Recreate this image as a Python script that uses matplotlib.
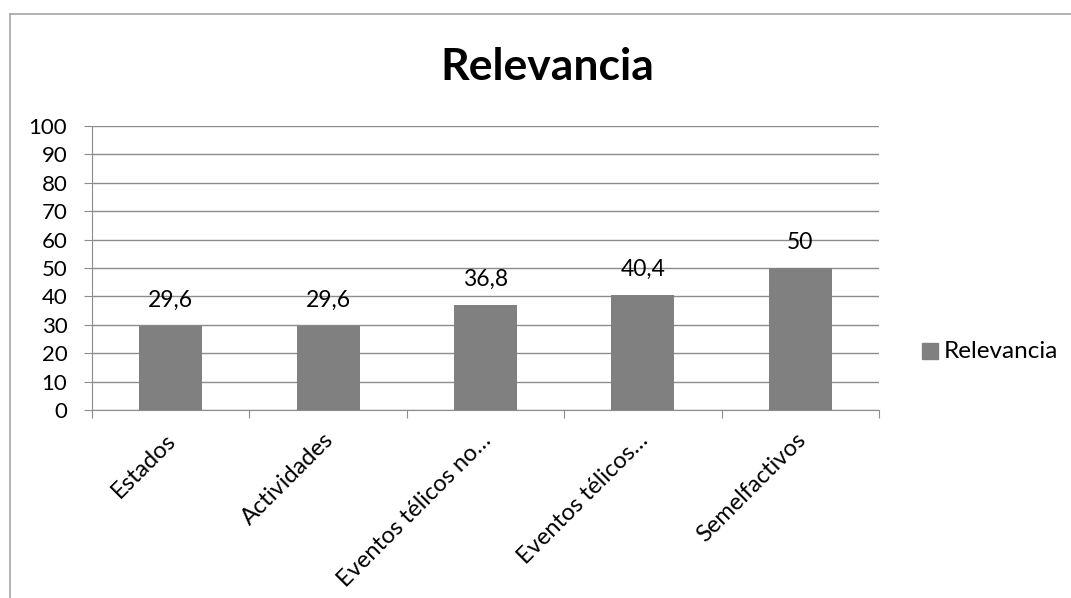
import matplotlib.pyplot as plt
from matplotlib.lines import Line2D
from matplotlib.patches import Rectangle

plt.rcParams['font.family'] = ['Lato', 'DejaVu Sans']

categories = ["Estados", "Actividades", "Eventos télicos no…", "Eventos télicos…", "Semelfactivos"]
values = [29.6, 29.6, 36.8, 40.4, 50]
value_labels = ["29,6", "29,6", "36,8", "40,4", "50"]
series_name = "Relevancia"

W, H = 1071, 598
fig = plt.figure(figsize=(W / 100, H / 100), dpi=100)

# chart border (left and top visible, rest cropped)
fig.add_artist(Line2D([10 / W, 10 / W], [0, 1 - 14 / H], color="#a6a6a6", lw=1.2))
fig.add_artist(Line2D([10 / W, 1], [1 - 14 / H, 1 - 14 / H], color="#a6a6a6", lw=1.2))

ax = fig.add_axes([92 / W, 188 / H, (879 - 92) / W, (410 - 126) / H])
grid_c = "#8c8c8c"
x = range(len(categories))
ax.bar(x, values, width=0.4, color="#808080", zorder=3)
for i, (v, lab) in enumerate(zip(values, value_labels)):
    ax.annotate(lab, (i, v), xytext=(0, 11), textcoords="offset points",
                ha="center", va="bottom", fontsize=16.5, color="#000000")

ax.set_xlim(-0.5, len(categories) - 0.5)
ax.set_ylim(0, 100)
ax.set_yticks(range(0, 101, 10))
ax.yaxis.grid(True, color=grid_c, lw=1, zorder=0)
ax.tick_params(axis="y", length=5.8, color=grid_c, labelsize=16, pad=12)

ax.set_xticks([i - 0.5 for i in range(len(categories) + 1)])
ax.set_xticklabels([])
ax.tick_params(axis="x", length=5.8, color=grid_c, direction="out")
for i, c in enumerate(categories):
    ax.annotate(c, (i, 0), xycoords=("data", "axes fraction"), xytext=(-4, -14),
                textcoords="offset points", rotation=45, ha="right", va="top",
                rotation_mode="anchor", fontsize=17)

for s in ["top", "right"]:
    ax.spines[s].set_visible(False)
ax.spines["left"].set_color(grid_c)
ax.spines["bottom"].set_color(grid_c)

fig.text(547 / W, 1 - 67 / H, "Relevancia", ha="center", va="center",
         fontsize=32, fontweight="bold")

# legend
fig.add_artist(Rectangle((922 / W, 1 - 359 / H), 16 / W, 16 / H, color="#808080"))
fig.text(944 / W, 1 - 352 / H, series_name, ha="left", va="center", fontsize=17.5)

fig.savefig("out.png", dpi=100, facecolor="white")
